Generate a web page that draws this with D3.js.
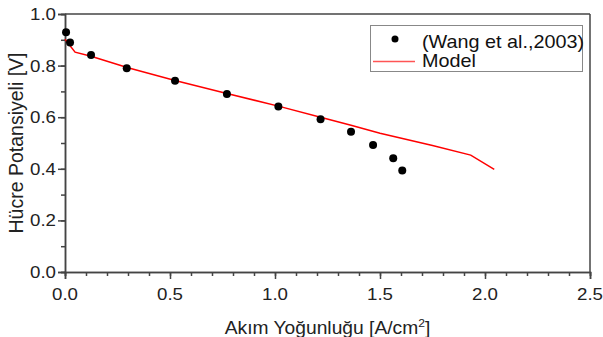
<!DOCTYPE html>
<html><head><meta charset="utf-8">
<script src="https://cdn.jsdelivr.net/npm/d3@7"></script>
<style>body{margin:0;background:#fff}svg{display:block;font-family:"Liberation Sans",Arial,sans-serif}</style>
</head><body><svg id="c" width="603" height="337"></svg>
<script>
const expX = [0.005,0.024,0.124,0.294,0.524,0.771,1.016,1.217,1.362,1.467,1.563,1.606];
const expY = [0.929,0.890,0.841,0.790,0.741,0.690,0.641,0.592,0.544,0.492,0.441,0.393];
const modelX = [0,0.048,0.124,0.3,0.524,0.771,1.016,1.217,1.362,1.5,1.75,1.932,2.044];
const modelY = [0.902,0.852,0.836,0.792,0.742,0.692,0.643,0.600,0.569,0.538,0.490,0.453,0.398];
const xTicks = ["0.0","0.5","1.0","1.5","2.0","2.5"];
const yTicks = ["0.0","0.2","0.4","0.6","0.8","1.0"];
const legendLabels = ["(Wang et al.,2003)","Model"];

const svg = d3.select("#c");
const L=65,R=590,T=14,B=272;
const x = d3.scaleLinear().domain([0,2.5]).range([L,R]);
const y = d3.scaleLinear().domain([0,1]).range([B,T]);
const axCol="#444", txt="#222", SX=1.1;

// frame top/right
svg.append("line").attr("x1",L).attr("x2",R).attr("y1",T).attr("y2",T).attr("stroke",axCol).attr("stroke-width",1.5);
svg.append("line").attr("x1",R).attr("x2",R).attr("y1",T).attr("y2",B).attr("stroke",axCol).attr("stroke-width",1.5);

const minor = d3.range(0,26).map(i=>i/10);
const gx = svg.append("g").attr("transform",`translate(0,${B})`);
gx.call(d3.axisBottom(x).tickValues(minor).tickSize(4).tickFormat(""));
gx.append("g").call(d3.axisBottom(x).tickValues(xTicks.map(Number)).tickSize(7).tickFormat(""));
gx.selectAll("path,line").attr("stroke",axCol).attr("stroke-width",1.5);

const yminor = d3.range(0,11).map(i=>i/10);
const gy = svg.append("g").attr("transform",`translate(${L},0)`);
gy.call(d3.axisLeft(y).tickValues(yminor).tickSize(4).tickFormat(""));
gy.append("g").call(d3.axisLeft(y).tickValues(yTicks.map(Number)).tickSize(7).tickFormat(""));
gy.selectAll("path,line").attr("stroke",axCol).attr("stroke-width",1.5);

// tick labels
svg.selectAll("text.xt").data(xTicks).enter().append("text").attr("class","xt")
  .attr("transform",d=>`translate(${x(+d)},300) scale(${SX},1)`).attr("text-anchor","middle")
  .attr("font-size",17).attr("fill",txt).text(d=>d);
svg.selectAll("text.yt").data(yTicks).enter().append("text").attr("class","yt")
  .attr("transform",d=>`translate(56,${y(+d)+6}) scale(${SX},1)`).attr("text-anchor","end")
  .attr("font-size",17).attr("fill",txt).text(d=>d);

// model line
const md = modelX.map((v,i)=>[v,modelY[i]]);
svg.append("path").datum(md).attr("fill","none").attr("stroke","#f00").attr("stroke-width",1.5)
  .attr("d",d3.line().x(d=>x(d[0])).y(d=>y(d[1])));

// points
svg.selectAll("circle.p").data(expX.map((v,i)=>[v,expY[i]])).enter().append("circle")
  .attr("class","p").attr("cx",d=>x(d[0])).attr("cy",d=>y(d[1])).attr("r",4).attr("fill","#000");

// axis titles
svg.append("text").attr("transform",`translate(${(L+R)/2},334) scale(${SX},1)`).attr("text-anchor","middle").attr("font-size",17.5).attr("fill",txt)
  .html('Akım Yoğunluğu [A/cm<tspan dy="-7" font-size="11">2</tspan><tspan dy="7">]</tspan>');
svg.append("text").attr("transform",`translate(23,${(T+B)/2}) rotate(-90)`).attr("text-anchor","middle")
  .attr("font-size",19.5).attr("fill",txt).text("Hücre Potansiyeli [V]");

// legend
const lg = svg.append("g");
lg.append("rect").attr("x",370.5).attr("y",25.5).attr("width",212).attr("height",46).attr("fill","#fff").attr("stroke","#888").attr("stroke-width",1);
lg.append("circle").attr("cx",395).attr("cy",39).attr("r",3.5).attr("fill","#000");
lg.append("line").attr("x1",373).attr("x2",415).attr("y1",61.5).attr("y2",61.5).attr("stroke","#f55").attr("stroke-width",1.5);
lg.selectAll("text.l").data(legendLabels).enter().append("text").attr("class","l")
  .attr("transform",(d,i)=>`translate(422,${48+i*19}) scale(${SX},1)`).attr("font-size",18).attr("fill","#111").text(d=>d);
</script></body></html>
